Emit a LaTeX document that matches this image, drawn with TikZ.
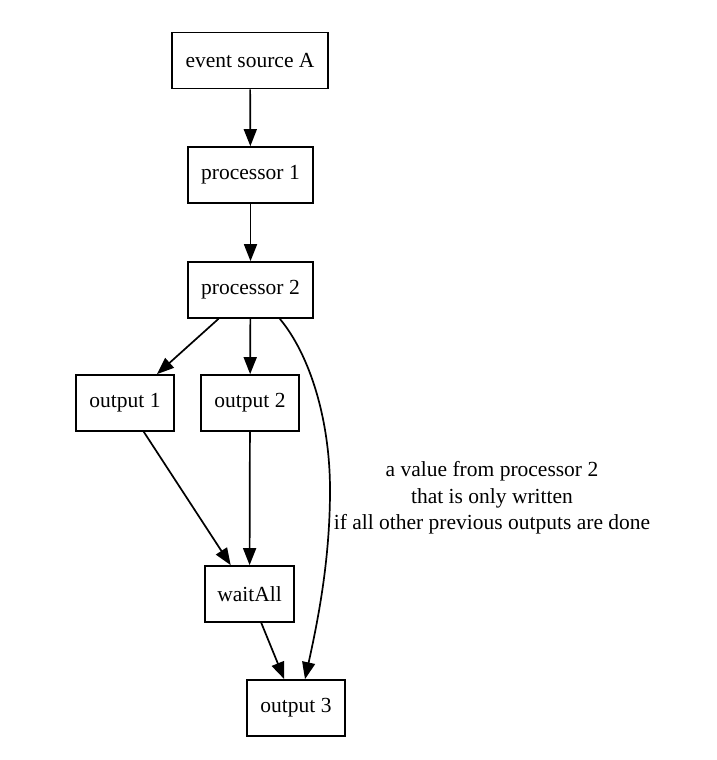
\documentclass[tikz,border=0pt]{standalone}
\usepackage{fontspec}
\setmainfont{Liberation Serif}
\usetikzlibrary{arrows.meta}
\begin{document}
\begin{tikzpicture}[x=1pt,y=-1pt,
  box/.style={draw,line width=1.7pt,inner sep=0pt,minimum height=56pt,font=\fontsize{21.5}{26}\selectfont},
  edge/.style={line width=1.7pt,-{Triangle[length=17pt,width=13pt]}}]
\useasboundingbox (0,0) rectangle (716,760);
\node[box,minimum width=156pt] (esa) at (250,60.5) {event source A};
\node[box,minimum width=125pt] (p1) at (250.5,175) {processor 1};
\node[box,minimum width=125pt] (p2) at (250.5,290) {processor 2};
\node[box,minimum width=98pt] (o1) at (125,403) {output 1};
\node[box,minimum width=98pt] (o2) at (250,403) {output 2};
\node[box,minimum width=89pt] (wa) at (249.5,594) {waitAll};
\node[box,minimum width=98pt] (o3) at (296,708) {output 3};
\node[align=center,font=\fontsize{21.5}{26.5}\selectfont,inner sep=0pt] (lbl) at (492,498)
  {a value from processor 2\\that is only written\\if all other previous outputs are done};
\coordinate (cs) at ([xshift=-34pt]p2.south east);
\coordinate (mid) at (330,490);
\coordinate (ce) at ([xshift=9pt]o3.north);
\draw[edge] (esa) -- (p1);
\draw[edge] (p1) -- (p2);
\draw[edge] (p2) -- (o1);
\draw[edge] (p2) -- (o2);
\draw[edge] (o1) -- (wa);
\draw[edge] (o2) -- (wa);
\draw[edge] (wa) -- (o3);
\draw[edge] (cs) .. controls (310,355) and (330,420) .. (mid) .. controls (330,560) and (318,620) .. (ce);
\end{tikzpicture}
\end{document}
